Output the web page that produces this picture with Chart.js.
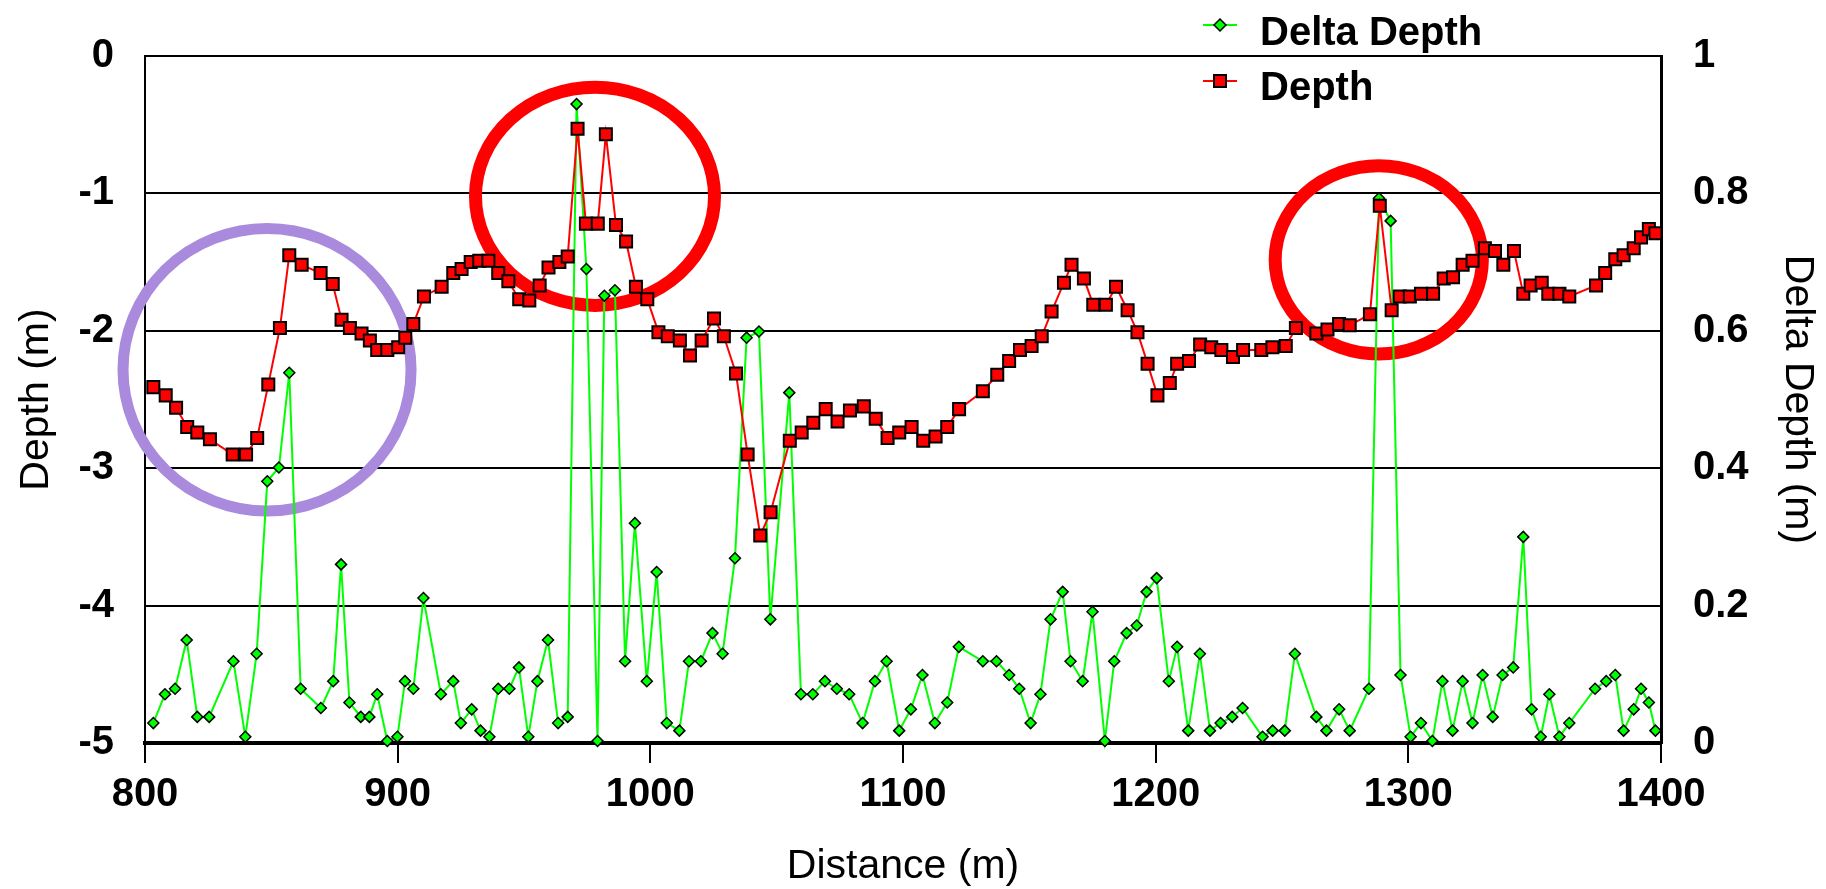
<!DOCTYPE html>
<html><head><meta charset="utf-8">
<script src="https://cdn.jsdelivr.net/npm/chart.js@4.4.1/dist/chart.umd.min.js"></script>
<style>html,body{margin:0;padding:0;background:#fff;overflow:hidden}#wrap{width:1826px;height:889px;position:relative}</style>
</head><body><div id="wrap"><canvas id="c" width="1826" height="889"></canvas></div>
<script>
const seriesNames = ['Delta Depth', 'Depth'];
const depthDistance = [803.3,808.2,812.3,816.7,820.7,825.7,834.7,840.0,844.4,848.8,853.4,857.1,862.0,869.5,874.3,877.8,881.1,885.7,889.0,891.9,895.9,900.2,903.0,906.2,910.4,917.4,922.0,925.3,928.9,932.3,935.9,939.8,943.8,948.1,952.1,956.2,959.7,964.0,967.3,971.2,974.5,979.2,982.4,986.4,990.4,994.3,998.8,1003.2,1006.9,1011.7,1015.7,1020.3,1025.2,1029.1,1033.9,1038.5,1043.5,1047.6,1055.2,1059.9,1064.5,1069.4,1074.1,1079.0,1084.5,1089.2,1093.9,1098.5,1103.4,1108.0,1112.9,1117.5,1122.2,1131.6,1137.3,1142.0,1146.3,1150.9,1154.9,1158.8,1163.7,1166.7,1171.6,1175.3,1180.3,1184.3,1188.9,1192.8,1196.8,1200.7,1205.6,1208.5,1213.2,1217.6,1222.0,1226.0,1230.6,1234.6,1241.8,1246.2,1251.5,1255.5,1263.6,1268.0,1272.6,1276.8,1284.8,1288.7,1293.4,1296.6,1300.6,1305.0,1309.8,1314.0,1317.7,1321.5,1325.4,1330.3,1334.3,1337.6,1341.8,1345.5,1348.4,1352.8,1355.4,1359.8,1363.7,1374.3,1377.9,1381.9,1385.2,1389.2,1392.1,1395.2,1397.8];
const depthValues = [-2.41,-2.47,-2.56,-2.70,-2.74,-2.79,-2.90,-2.90,-2.78,-2.39,-1.98,-1.45,-1.52,-1.58,-1.66,-1.92,-1.98,-2.02,-2.07,-2.14,-2.14,-2.12,-2.05,-1.95,-1.75,-1.68,-1.58,-1.55,-1.50,-1.49,-1.49,-1.58,-1.64,-1.77,-1.78,-1.67,-1.54,-1.50,-1.46,-0.53,-1.22,-1.22,-0.57,-1.23,-1.35,-1.68,-1.77,-2.01,-2.04,-2.07,-2.18,-2.07,-1.91,-2.04,-2.31,-2.90,-3.49,-3.32,-2.80,-2.74,-2.67,-2.57,-2.66,-2.58,-2.55,-2.64,-2.78,-2.74,-2.70,-2.80,-2.77,-2.70,-2.57,-2.44,-2.32,-2.22,-2.14,-2.11,-2.04,-1.86,-1.65,-1.52,-1.62,-1.81,-1.81,-1.68,-1.85,-2.01,-2.24,-2.47,-2.38,-2.24,-2.22,-2.10,-2.12,-2.14,-2.19,-2.14,-2.14,-2.12,-2.11,-1.98,-2.02,-1.99,-1.95,-1.96,-1.88,-1.09,-1.85,-1.75,-1.75,-1.73,-1.73,-1.62,-1.61,-1.52,-1.49,-1.40,-1.42,-1.52,-1.42,-1.73,-1.67,-1.65,-1.73,-1.73,-1.75,-1.67,-1.58,-1.48,-1.45,-1.40,-1.32,-1.26,-1.29];
const deltaDistance = [803.3,807.9,811.9,816.5,820.7,825.4,835.0,839.7,844.2,848.4,853.0,857.1,861.6,869.6,874.5,877.6,880.9,885.4,888.8,891.9,895.9,899.9,902.9,906.2,910.2,917.1,922.0,925.0,929.3,932.8,936.3,939.8,944.2,948.0,951.7,955.3,959.5,963.5,967.3,970.8,974.7,979.1,981.8,986.0,990.0,993.9,998.6,1002.5,1006.5,1011.5,1015.3,1020.0,1024.6,1028.6,1033.5,1038.1,1043.0,1047.5,1055.0,1059.6,1064.3,1069.1,1073.8,1078.7,1084.0,1088.9,1093.5,1098.5,1103.1,1107.7,1112.6,1117.5,1122.1,1131.6,1137.0,1142.0,1146.0,1150.5,1154.4,1158.4,1163.2,1166.3,1171.1,1175.0,1179.9,1183.6,1188.5,1192.5,1196.4,1200.4,1205.2,1208.5,1212.9,1217.5,1221.5,1225.7,1230.3,1234.4,1242.3,1246.3,1251.1,1255.1,1263.6,1267.6,1272.6,1276.8,1284.4,1288.4,1293.0,1296.9,1300.9,1305.0,1309.5,1313.5,1317.5,1321.5,1325.4,1329.4,1333.4,1337.3,1341.5,1345.5,1348.8,1352.4,1355.8,1359.8,1363.7,1373.9,1378.3,1381.9,1385.2,1389.2,1392.1,1395.2,1397.8];
const deltaValues = [0.029,0.071,0.079,0.150,0.038,0.038,0.119,0.009,0.130,0.381,0.401,0.539,0.079,0.051,0.090,0.260,0.059,0.038,0.038,0.071,0.003,0.009,0.090,0.079,0.211,0.071,0.090,0.029,0.049,0.018,0.009,0.079,0.079,0.110,0.009,0.090,0.150,0.029,0.038,0.930,0.690,0.003,0.651,0.659,0.119,0.320,0.090,0.249,0.029,0.018,0.119,0.119,0.160,0.130,0.269,0.590,0.599,0.180,0.510,0.071,0.071,0.090,0.079,0.071,0.029,0.090,0.119,0.018,0.049,0.099,0.029,0.059,0.140,0.119,0.119,0.099,0.079,0.029,0.071,0.180,0.220,0.119,0.090,0.191,0.003,0.119,0.160,0.171,0.220,0.240,0.090,0.140,0.018,0.130,0.018,0.029,0.038,0.051,0.009,0.018,0.018,0.130,0.038,0.018,0.049,0.018,0.079,0.793,0.760,0.099,0.009,0.029,0.003,0.090,0.018,0.090,0.029,0.099,0.038,0.099,0.110,0.300,0.049,0.009,0.071,0.009,0.029,0.079,0.090,0.099,0.018,0.049,0.079,0.059,0.018];
const xTickValues = [800, 900, 1000, 1100, 1200, 1300, 1400];
const xTickLabels = ['800', '900', '1000', '1100', '1200', '1300', '1400'];
const depthTickValues = [-5, -4, -3, -2, -1, 0];
const depthTickLabels = ['-5', '-4', '-3', '-2', '-1', '0'];
const deltaTickValues = [0, 0.2, 0.4, 0.6, 0.8, 1];
const deltaTickLabels = ['0', '0.2', '0.4', '0.6', '0.8', '1'];
// highlight rings (annotations) in data units: centre distance, centre depth, radius (m), radius (depth units)
const ringCenterX = [848.3, 978.1, 1288.3];
const ringCenterY = [-2.284, -1.021, -1.483];
const ringRadiusX = [57.0, 47.3, 41.0];
const ringRadiusY = [1.028, 0.794, 0.685];
const ringColors = ['#A98ADC', '#FF0000', '#FF0000'];

const FAM = '"Liberation Sans", Arial, sans-serif';

const ringPlugin = {
  id: 'rings',
  beforeDatasetsDraw(chart) {
    const { ctx, scales: { x, y } } = chart;
    ctx.save();
    ringCenterX.forEach((cx, i) => {
      const px = x.getPixelForValue(cx), py = y.getPixelForValue(ringCenterY[i]);
      const rx = Math.abs(x.getPixelForValue(cx + ringRadiusX[i]) - px);
      const ry = Math.abs(y.getPixelForValue(ringCenterY[i] + ringRadiusY[i]) - py);
      ctx.beginPath();
      ctx.ellipse(px, py, rx, ry, 0, 0, Math.PI * 2);
      ctx.lineWidth = i === 0 ? 11 : 13;
      ctx.strokeStyle = ringColors[i];
      ctx.stroke();
    });
    ctx.restore();
  }
};

const legendPlugin = {
  id: 'customLegend',
  afterDraw(chart) {
    const ctx = chart.ctx;
    ctx.save();
    const items = [
      { name: seriesNames[0], color: '#00FF00', shape: 'diamond', my: 25, ty: 45 },
      { name: seriesNames[1], color: '#FF0000', shape: 'square', my: 81, ty: 100 }
    ];
    items.forEach(it => {
      ctx.beginPath();
      ctx.moveTo(1203, it.my); ctx.lineTo(1237, it.my);
      ctx.strokeStyle = it.color; ctx.lineWidth = 2; ctx.stroke();
      ctx.beginPath();
      if (it.shape === 'diamond') {
        ctx.moveTo(1220, it.my - 6); ctx.lineTo(1226, it.my); ctx.lineTo(1220, it.my + 6); ctx.lineTo(1214, it.my); ctx.closePath();
        ctx.lineWidth = 1.5;
      } else {
        ctx.rect(1214, it.my - 6, 12, 12);
        ctx.lineWidth = 2;
      }
      ctx.fillStyle = it.color; ctx.fill();
      ctx.strokeStyle = '#000'; ctx.stroke();
      ctx.fillStyle = '#000';
      ctx.font = 'bold 40px ' + FAM;
      ctx.textBaseline = 'alphabetic';
      ctx.textAlign = 'left';
      ctx.fillText(it.name, 1260, it.ty);
    });
    ctx.restore();
  }
};

new Chart(document.getElementById('c'), {
  type: 'scatter',
  data: {
    datasets: [
      {
        label: seriesNames[1],
        data: depthDistance.map((d, i) => ({ x: d, y: depthValues[i] })),
        yAxisID: 'y', showLine: true, tension: 0,
        borderColor: '#FF0000', borderWidth: 2,
        pointStyle: 'rect', pointRadius: 8.5, pointHoverRadius: 8.5,
        pointBackgroundColor: '#FF0000', pointBorderColor: '#000', pointBorderWidth: 2,
        order: 0, clip: false
      },
      {
        label: seriesNames[0],
        data: deltaDistance.map((d, i) => ({ x: d, y: deltaValues[i] })),
        yAxisID: 'y1', showLine: true, tension: 0,
        borderColor: '#00FF00', borderWidth: 2,
        pointStyle: 'rectRot', pointRadius: 5.5, pointHoverRadius: 5.5,
        pointBackgroundColor: '#00FF00', pointBorderColor: '#000', pointBorderWidth: 1.5,
        order: 1, clip: false
      }
    ]
  },
  options: {
    responsive: false, animation: false, devicePixelRatio: 1,
    layout: { padding: { top: 48, left: 0, right: 0, bottom: 0 } },
    plugins: { legend: { display: false }, tooltip: { enabled: false } },
    scales: {
      x: {
        type: 'linear', position: 'bottom', min: 800, max: 1400,
        afterBuildTicks: s => { s.ticks = xTickValues.map(v => ({ value: v })); },
        afterFit: s => { s.height = 146; },
        ticks: { callback: (v, i) => xTickLabels[i], color: '#000', font: { family: FAM, size: 40, weight: 'bold' }, padding: 8, maxRotation: 0, autoSkip: false },
        grid: { drawOnChartArea: false, drawTicks: true, tickLength: 20, color: '#000', lineWidth: 2 },
        border: { display: true, color: '#000', width: 4 },
        title: { display: true, text: 'Distance (m)', color: '#000', font: { family: FAM, size: 41, lineHeight: 1 }, padding: { top: 0, bottom: 2 } }
      },
      y: {
        type: 'linear', position: 'left', min: -5, max: 0,
        afterBuildTicks: s => { s.ticks = depthTickValues.map(v => ({ value: v })); },
        afterFit: s => { s.width = 145; },
        ticks: { callback: (v, i) => depthTickLabels[i], color: '#000', font: { family: FAM, size: 40, weight: 'bold' }, padding: 31 },
        grid: { color: '#000', lineWidth: 2, drawTicks: false },
        border: { display: true, color: '#000', width: 2 },
        title: { display: true, text: 'Depth (m)', color: '#000', font: { family: FAM, size: 41, lineHeight: 1 }, padding: { top: 16, bottom: 0 } }
      },
      y1: {
        type: 'linear', position: 'right', min: 0, max: 1,
        afterBuildTicks: s => { s.ticks = deltaTickValues.map(v => ({ value: v })); },
        afterFit: s => { s.width = 165; },
        ticks: { callback: (v, i) => deltaTickLabels[i], color: '#000', font: { family: FAM, size: 40, weight: 'bold' }, padding: 32 },
        grid: { drawOnChartArea: false, drawTicks: false },
        border: { display: true, color: '#000', width: 3 },
        title: { display: true, text: 'Delta Depth (m)', color: '#000', font: { family: FAM, size: 41, lineHeight: 1 }, padding: { top: 8, bottom: 0 } }
      }
    }
  },
  plugins: [ringPlugin, legendPlugin]
});
</script>
</body></html>
